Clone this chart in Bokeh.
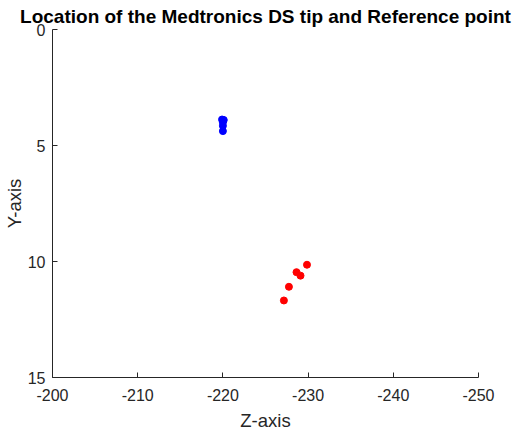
from bokeh.plotting import figure
from bokeh.models import Range1d, FixedTicker
from bokeh.embed import file_html
from bokeh.resources import INLINE

# Data
ds_tip_z = [-219.9, -220.1, -220.0, -220.0, -220.0]
ds_tip_y = [3.88, 3.90, 4.00, 4.15, 4.38]
ref_z = [-229.87, -228.64, -229.11, -227.75, -227.16]
ref_y = [10.14, 10.46, 10.61, 11.09, 11.68]
x_ticks = [-200, -210, -220, -230, -240, -250]
y_ticks = [0, 5, 10, 15]

p = figure(width=513, height=433, output_backend="svg", toolbar_location=None,
           x_range=Range1d(-200, -250), y_range=Range1d(15, 0),
           title="Location of the Medtronics DS tip and Reference point",
           min_border_left=52, min_border_right=35, min_border_top=0, min_border_bottom=10)

p.title.text_font = "Liberation Sans"
p.title.text_font_size = "19px"
p.title.text_font_style = "bold"
p.title.align = "center"
p.title.text_color = "black"
p.title.standoff = 5.5
p.title.offset = -5

p.grid.visible = False
p.outline_line_color = None
p.background_fill_color = "white"
p.border_fill_color = "white"

for ax in [p.xaxis[0], p.yaxis[0]]:
    ax.axis_line_color = "#262626"
    ax.major_tick_line_color = "#262626"
    ax.major_tick_in = 5
    ax.major_tick_out = 0
    ax.minor_tick_line_color = None
    ax.major_label_text_font = "Liberation Sans"
    ax.major_label_text_font_size = "16px"
    ax.major_label_text_color = "#262626"
    ax.axis_label_text_font = "Liberation Sans"
    ax.axis_label_text_font_size = "18.5px"
    ax.axis_label_text_font_style = "normal"
    ax.axis_label_text_color = "#262626"

p.xaxis.ticker = FixedTicker(ticks=x_ticks)
p.yaxis.ticker = FixedTicker(ticks=y_ticks)
p.xaxis.major_label_overrides = {t: str(t) for t in x_ticks}
p.yaxis.major_label_overrides = {t: str(t) for t in y_ticks}
p.xaxis.axis_label = "Z-axis"
p.yaxis.axis_label = "Y-axis"
p.xaxis.major_label_standoff = 11
p.yaxis.major_label_standoff = 7
p.xaxis.axis_label_standoff = 6
p.yaxis.axis_label_standoff = 0

p.scatter(ds_tip_z, ds_tip_y, size=7, color="#0000FF", line_color="#0000FF")
p.scatter(ref_z, ref_y, size=7, color="#FF0000", line_color="#FF0000")

open("out.html", "w").write(file_html(p, INLINE))
